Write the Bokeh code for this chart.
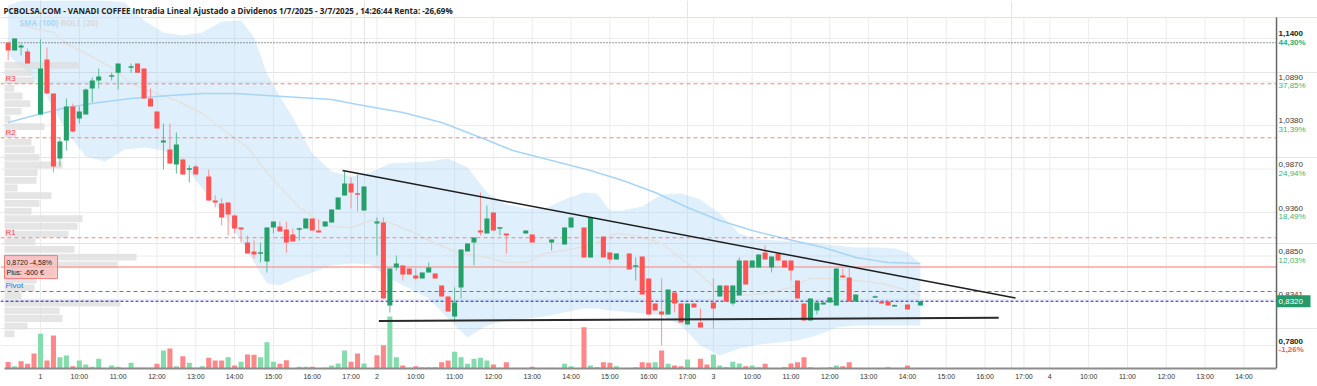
from bokeh.plotting import figure
from bokeh.models import Range1d, FixedTicker, LinearAxis
from bokeh.core.properties import value
from bokeh.embed import file_html
from bokeh.resources import INLINE

TITLE = ("PCBOLSA.COM - VANADI COFFEE Intradia Lineal Ajustado a Dividenos "
         "1/7/2025 - 3/7/2025 , 14:26:44 Renta: -26,69%")

# ---------------- candles (10 min) ----------------
candle_time = [
    "1 08:10", "1 08:20", "1 08:30", "1 08:40", "1 09:00", "1 09:10", "1 09:20", "1 09:30", "1 09:40", "1 09:50",
    "1 10:00", "1 10:10", "1 10:20", "1 10:30", "1 10:50", "1 11:00", "1 11:20", "1 11:30", "1 11:40", "1 11:50",
    "1 12:00", "1 12:10", "1 12:20", "1 12:30", "1 12:40", "1 12:50", "1 13:00", "1 13:20", "1 13:30", "1 13:40",
    "1 13:50", "1 14:00", "1 14:10", "1 14:20", "1 14:30", "1 14:40", "1 14:50", "1 15:00", "1 15:10", "1 15:20",
    "1 15:30", "1 15:40", "1 15:50", "1 16:00", "1 16:10", "1 16:20", "1 16:30", "1 16:40", "1 16:50", "1 17:00",
    "1 17:10", "1 17:20",
    "2 09:00", "2 09:10", "2 09:20", "2 09:30", "2 09:40", "2 09:50", "2 10:00", "2 10:10", "2 10:20", "2 10:30",
    "2 10:40", "2 10:50", "2 11:00", "2 11:10", "2 11:20", "2 11:30", "2 11:40", "2 11:50", "2 12:00", "2 12:10",
    "2 12:20", "2 12:50", "2 13:00", "2 13:30", "2 13:50", "2 14:00", "2 14:20", "2 14:30", "2 14:50", "2 15:00",
    "2 15:10", "2 15:30", "2 15:40", "2 15:50", "2 16:00", "2 16:10", "2 16:20", "2 16:30", "2 16:40", "2 16:50",
    "2 17:00", "2 17:10", "2 17:20",
    "3 09:00", "3 09:10", "3 09:20", "3 09:30", "3 09:40", "3 09:50", "3 10:00", "3 10:10", "3 10:20", "3 10:30",
    "3 10:40", "3 10:50", "3 11:00", "3 11:10", "3 11:20", "3 11:30", "3 11:40", "3 11:50", "3 12:00", "3 12:10",
    "3 12:20", "3 12:30", "3 12:40", "3 13:10", "3 13:20", "3 13:30", "3 13:40", "3 14:00", "3 14:20",
]
candle_open = [
    1.1350, 1.1259, 1.1294, 1.1248, 1.0509, 1.1154, 1.0755, 0.9993, 1.0204, 1.0603,
    1.0462, 1.0509, 1.0814, 1.0908, 1.0954, 1.0999, 1.1060, 1.1107, 1.1048, 1.0697,
    1.0544, 1.0180, 1.0099, 0.9923, 0.9981, 0.9863, 0.9899, 0.9782, 0.9501, 0.9466,
    0.9477, 0.9325, 0.9184, 0.9008, 0.8903, 0.8880, 0.8786, 0.9184, 0.9196, 0.9161,
    0.9102, 0.9160, 0.9173, 0.9290, 0.9149, 0.9196, 0.9243, 0.9395, 0.9559, 0.9700,
    0.9583, 0.9384,
    0.9231, 0.9243, 0.8270, 0.8715, 0.8739, 0.8704, 0.8622, 0.8587, 0.8657, 0.8645,
    0.8504, 0.8375, 0.8141, 0.8481, 0.8903, 0.9008, 0.9149, 0.9114, 0.9360, 0.9173,
    0.9114, 0.9114, 0.9102, 0.9008, 0.8985, 0.9184, 0.9184, 0.8833, 0.9079, 0.8891,
    0.8809, 0.8879, 0.8727, 0.8844, 0.8587, 0.8293, 0.8200, 0.8164, 0.8422, 0.8293,
    0.8047, 0.8293, 0.8071,
    0.8305, 0.8375, 0.8504, 0.8293, 0.8387, 0.8797, 0.8715, 0.8715, 0.8891, 0.8715,
    0.8879, 0.8797, 0.8797, 0.8563, 0.8293, 0.8094, 0.8211, 0.8282, 0.8305, 0.8270,
    0.8622, 0.8598, 0.8317, 0.8364, 0.8317, 0.8317, 0.8264, 0.8282, 0.8270,
]
candle_high = [
    1.1365, 1.1400, 1.1341, 1.1283, 1.1390, 1.1294, 1.0755, 1.0239, 1.0697, 1.0638,
    1.0603, 1.0814, 1.0943, 1.1048, 1.0999, 1.1107, 1.1107, 1.1107, 1.1048, 1.0814,
    1.0544, 1.0403, 1.0403, 1.0298, 0.9993, 0.9911, 0.9923, 0.9864, 0.9559, 0.9524,
    0.9477, 0.9337, 0.9184, 0.9091, 0.9032, 0.9008, 0.9184, 0.9255, 0.9255, 0.9255,
    0.9173, 0.9184, 0.9290, 0.9290, 0.9278, 0.9255, 0.9395, 0.9536, 0.9841, 0.9770,
    0.9806, 0.9665,
    0.9301, 0.9301, 0.8704, 0.8856, 0.8739, 0.8704, 0.8704, 0.8657, 0.8774, 0.8645,
    0.8504, 0.8375, 0.8481, 0.8926, 0.8997, 0.9067, 0.9595, 0.9442, 0.9360, 0.9190,
    0.9114, 0.9149, 0.9102, 0.9043, 0.9184, 0.9301, 0.9184, 0.9301, 0.9079, 0.8891,
    0.8879, 0.8879, 0.8833, 0.8844, 0.8587, 0.8293, 0.8587, 0.8457, 0.8422, 0.8293,
    0.8293, 0.8293, 0.8235,
    0.8587, 0.8504, 0.8504, 0.8504, 0.8833, 0.8797, 0.8797, 0.8868, 0.8973, 0.8844,
    0.8879, 0.8797, 0.8797, 0.8563, 0.8293, 0.8352, 0.8305, 0.8305, 0.8364, 0.8704,
    0.8704, 0.8704, 0.8399, 0.8387, 0.8317, 0.8317, 0.8282, 0.8282, 0.8320,
]
candle_low = [
    1.1142, 1.1259, 1.1201, 1.1107, 1.0509, 1.0755, 0.9829, 0.9899, 1.0087, 1.0298,
    1.0403, 1.0509, 1.0650, 1.0814, 1.0908, 1.0802, 1.0999, 1.0999, 1.0697, 1.0603,
    1.0345, 0.9864, 0.9935, 0.9817, 0.9806, 0.9712, 0.9806, 0.9501, 0.9419, 0.9208,
    0.9091, 0.9114, 0.9008, 0.8879, 0.8821, 0.8774, 0.8657, 0.9114, 0.9137, 0.8891,
    0.9020, 0.9032, 0.9173, 0.9149, 0.9126, 0.9196, 0.9243, 0.9395, 0.9559, 0.9407,
    0.9372, 0.9384,
    0.8856, 0.8352, 0.8188, 0.8680, 0.8563, 0.8633, 0.8563, 0.8587, 0.8657, 0.8587,
    0.8375, 0.8200, 0.8082, 0.8352, 0.8903, 0.8739, 0.9091, 0.9114, 0.9149, 0.9091,
    0.8879, 0.9114, 0.9008, 0.8915, 0.8985, 0.9184, 0.8833, 0.8833, 0.8833, 0.8762,
    0.8809, 0.8692, 0.8563, 0.8399, 0.8164, 0.8211, 0.7800, 0.8164, 0.8188, 0.8071,
    0.8047, 0.8246, 0.8012,
    0.8000, 0.8375, 0.8317, 0.8270, 0.8387, 0.8516, 0.8715, 0.8715, 0.8809, 0.8657,
    0.8797, 0.8715, 0.8563, 0.8352, 0.8094, 0.8094, 0.8164, 0.8282, 0.8305, 0.8270,
    0.8598, 0.8317, 0.8317, 0.8364, 0.8293, 0.8270, 0.8258, 0.8223, 0.8270,
]
candle_close = [
    1.1259, 1.1400, 1.1318, 1.1107, 1.1048, 1.0755, 0.9899, 1.0192, 1.0603, 1.0310,
    1.0544, 1.0802, 1.0908, 1.0954, 1.0966, 1.1107, 1.1072, 1.0999, 1.0697, 1.0603,
    1.0345, 1.0204, 0.9935, 1.0157, 0.9806, 0.9876, 0.9806, 0.9501, 0.9477, 0.9301,
    0.9337, 0.9173, 0.9161, 0.8879, 0.8868, 0.8891, 0.9184, 0.9255, 0.9137, 0.9008,
    0.9020, 0.9172, 0.9290, 0.9149, 0.9126, 0.9255, 0.9395, 0.9536, 0.9700, 0.9595,
    0.9571, 0.9665,
    0.9255, 0.8352, 0.8704, 0.8762, 0.8633, 0.8633, 0.8587, 0.8657, 0.8715, 0.8587,
    0.8375, 0.8200, 0.8305, 0.8926, 0.8997, 0.9067, 0.9126, 0.9290, 0.9149, 0.9184,
    0.9091, 0.9149, 0.9008, 0.9043, 0.9184, 0.9301, 0.8833, 0.9301, 0.8833, 0.8809,
    0.8879, 0.8692, 0.8739, 0.8399, 0.8164, 0.8211, 0.8164, 0.8457, 0.8293, 0.8071,
    0.8293, 0.8246, 0.8012,
    0.8235, 0.8504, 0.8317, 0.8504, 0.8797, 0.8516, 0.8797, 0.8868, 0.8809, 0.8844,
    0.8797, 0.8715, 0.8680, 0.8352, 0.8094, 0.8352, 0.8305, 0.8305, 0.8364, 0.8704,
    0.8598, 0.8317, 0.8399, 0.8375, 0.8293, 0.8270, 0.8270, 0.8223, 0.8320,
]

# ---------------- volume (shares) ----------------
vol_time = [
    "1 08:10", "1 08:20", "1 08:30", "1 08:40", "1 08:50", "1 09:00", "1 09:10", "1 09:20", "1 09:30", "1 09:40",
    "1 09:50", "1 10:00", "1 10:10", "1 10:20", "1 10:30", "1 10:50", "1 11:00", "1 11:20", "1 11:30", "1 11:40",
    "1 11:50", "1 12:00", "1 12:10", "1 12:20", "1 12:30", "1 12:40", "1 12:50", "1 13:00", "1 13:10", "1 13:20",
    "1 13:30", "1 13:40", "1 13:50", "1 14:00", "1 14:10", "1 14:20", "1 14:30", "1 14:40", "1 14:50", "1 15:00",
    "1 15:10", "1 15:20", "1 15:40", "1 15:50", "1 16:00", "1 16:20", "1 16:30", "1 16:40", "1 16:50", "1 17:00",
    "1 17:10", "1 17:20",
    "2 09:00", "2 09:10", "2 09:20", "2 09:30", "2 09:40", "2 09:50", "2 10:00", "2 10:10", "2 10:20", "2 10:30",
    "2 10:40", "2 10:50", "2 11:00", "2 11:10", "2 11:20", "2 11:30", "2 11:40", "2 11:50", "2 12:00", "2 12:10",
    "2 12:20", "2 13:00", "2 13:30", "2 13:50", "2 14:00", "2 14:20", "2 14:30", "2 14:40", "2 14:50", "2 15:00",
    "2 15:10", "2 15:40", "2 15:50", "2 16:00", "2 16:10", "2 16:20", "2 16:30", "2 16:40", "2 16:50", "2 17:00",
    "2 17:20", "2 17:30",
    "3 09:00", "3 09:10", "3 09:20", "3 09:30", "3 09:40", "3 09:50", "3 10:00", "3 10:10", "3 10:20", "3 10:50",
    "3 11:00", "3 11:10", "3 11:20", "3 11:30", "3 11:50", "3 12:00", "3 12:10", "3 12:20", "3 12:30", "3 13:30",
    "3 14:00",
]
vol_shares = [
    13200, 4600, 14600, 9400, 30000, 69400, 16000, 66000, 22600, 26000,
    4600, 16000, 8000, 3400, 19400, 6000, 3400, 11400, 1400, 1400,
    1400, 9400, 36000, 40000, 4600, 24600, 11400, 1400, 4600, 21400,
    16000, 16000, 22600, 6000, 13400, 28000, 27400, 22600, 52600, 13400,
    9400, 16600, 3400, 3400, 3400, 1400, 6000, 10000, 36000, 13400,
    30000, 10000,
    26600, 46600, 104000, 22600, 6000, 1400, 4600, 2600, 2600, 2600,
    12600, 16000, 33400, 22600, 9400, 19400, 21400, 16000, 8000, 1400,
    12600, 3400, 1400, 9400, 4600, 82600, 6000, 2600, 12600, 11400,
    4600, 2600, 12600, 11400, 12600, 36000, 9400, 6000, 4600, 18000,
    19400, 8000,
    28000, 6000, 2600, 13400, 10000, 4600, 6000, 2600, 9400, 2600,
    10000, 12600, 22600, 2600, 1400, 2600, 6000, 4600, 12600, 2600,
    6000,
]
vol_up = [
    0, 1, 0, 0, 0, 1, 0, 0, 1, 1,
    0, 1, 1, 1, 1, 1, 1, 1, 0, 0,
    0, 0, 1, 0, 1, 0, 1, 1, 1, 0,
    0, 0, 1, 0, 1, 0, 0, 1, 1, 1,
    0, 0, 1, 1, 0, 1, 1, 1, 1, 0,
    0, 1,
    0, 0, 1, 1, 0, 1, 0, 1, 1, 0,
    0, 0, 1, 1, 1, 1, 1, 1, 0, 1,
    0, 0, 1, 1, 1, 0, 1, 0, 0, 0,
    1, 1, 0, 0, 1, 0, 1, 0, 0, 1,
    0, 0,
    1, 1, 0, 1, 1, 0, 1, 1, 0, 0,
    0, 0, 0, 1, 0, 1, 1, 0, 0, 0,
    0,
]

# ---------------- indicators ----------------
sma_time = ["1 08:10", "1 08:50", "1 09:40", "1 10:30", "1 11:20", "1 12:20", "1 13:10", "1 14:00", "1 14:50",
            "1 16:30", "1 17:10", "2 09:40", "2 10:40", "2 11:40", "2 12:30", "2 13:30", "2 14:30", "2 15:20",
            "2 16:10", "2 17:00", "3 09:10", "3 10:00", "3 10:50", "3 11:50", "3 12:40", "3 13:30", "3 14:20"]
sma_value = [1.0415, 1.0497, 1.0591, 1.0650, 1.0697, 1.0732, 1.0755, 1.0755, 1.0732,
             1.0685, 1.0626, 1.0532, 1.0415, 1.0239, 1.0087, 0.9970, 0.9852, 0.9735,
             0.9595, 0.9419, 0.9266, 0.9149, 0.9055, 0.8950, 0.8833, 0.8774, 0.8762]

boll_mid_time = ["1 08:30", "1 09:20", "1 09:40", "1 10:10", "1 10:50", "1 11:20", "1 12:00", "1 12:30",
                 "1 13:10", "1 13:50", "1 14:20", "1 14:50", "1 15:20", "1 15:40", "1 16:10", "1 16:30",
                 "1 17:00", "1 17:30", "2 09:20", "2 10:00", "2 10:30", "2 11:10", "2 11:50", "2 12:20",
                 "2 12:50", "2 13:20", "2 13:50", "2 14:30", "2 15:10", "2 15:40", "2 16:20", "2 17:00",
                 "2 17:30", "3 09:10", "3 09:40", "3 10:20", "3 11:00", "3 11:30", "3 12:00", "3 12:40",
                 "3 13:20", "3 13:50", "3 14:20"]
boll_mid_value = [1.1552, 1.1470, 1.1341, 1.1224, 1.1060, 1.0872, 1.0755, 1.0673,
                  1.0521, 1.0286, 1.0122, 0.9829, 0.9583, 0.9419, 0.9266, 0.9196,
                  0.9184, 0.9266, 0.9243, 0.9114, 0.8997, 0.8879, 0.8833, 0.8774,
                  0.8774, 0.8879, 0.8915, 0.8973, 0.9114, 0.9090, 0.8997, 0.8762,
                  0.8563, 0.8410, 0.8387, 0.8410, 0.8481, 0.8587, 0.8587, 0.8563,
                  0.8528, 0.8469, 0.8387]

boll_time = ["1 08:10", "1 08:30", "1 09:00", "1 09:20", "1 09:40", "1 10:10", "1 10:40", "1 11:10", "1 11:40",
             "1 12:10", "1 12:40", "1 13:10", "1 13:40", "1 14:10", "1 14:30", "1 14:50", "1 15:10", "1 15:30",
             "1 16:00", "1 16:30", "1 17:00", "1 17:30",
             "2 09:20", "2 09:50", "2 10:20", "2 10:50", "2 11:20", "2 11:50", "2 12:20", "2 12:50", "2 13:20",
             "2 13:50", "2 14:20", "2 14:40", "2 15:00", "2 15:20", "2 15:50", "2 16:20", "2 16:50", "2 17:20",
             "3 09:10", "3 09:40", "3 10:10", "3 10:40", "3 11:10", "3 11:40", "3 12:10", "3 12:40", "3 13:10",
             "3 13:40", "3 14:00", "3 14:20"]
boll_upper = [1.1787, 1.1845, 1.1845, 1.1845, 1.1845, 1.1845, 1.1845, 1.1822, 1.1611,
              1.1470, 1.1435, 1.1470, 1.1599, 1.1611, 1.1412, 1.0990, 1.0720, 1.0474,
              1.0052, 0.9841, 0.9782, 0.9829,
              0.9935, 0.9946, 0.9958, 0.9993, 0.9888, 0.9595, 0.9454, 0.9407, 0.9407,
              0.9513, 0.9595, 0.9583, 0.9384, 0.9384, 0.9430, 0.9571, 0.9583, 0.9513,
              0.9348, 0.9114, 0.9044, 0.9032, 0.9020, 0.8997, 0.8973, 0.8950, 0.8950,
              0.8938, 0.8891, 0.8762]
boll_lower = [1.1201, 1.1083, 1.0849, 1.0579, 1.0310, 1.0017, 0.9958, 1.0099, 1.0122,
              1.0087, 0.9935, 0.9642, 0.9360, 0.9032, 0.8774, 0.8528, 0.8504, 0.8575,
              0.8657, 0.8739, 0.8762, 0.8750,
              0.8586, 0.8469, 0.8352, 0.8118, 0.7895, 0.8036, 0.8094, 0.8118, 0.8141,
              0.8188, 0.8235, 0.8235, 0.8211, 0.8200, 0.8176, 0.8153, 0.8036, 0.7801,
              0.7684, 0.7766, 0.7813, 0.7836, 0.7860, 0.7918, 0.8012, 0.8036, 0.8036,
              0.8036, 0.8036, 0.8036]

# trend lines drawn on the chart
resist_time = ["1 16:47", "3 16:47"]
resist_price = [0.9853, 0.8358]
support_time = ["2 09:03", "3 16:21"]
support_price = [0.8088, 0.8126]

# horizontal levels
level_names = ["R3", "R2", "R1", "Pivot"]
level_values = [1.0869, 1.0236, 0.9064, 0.8434]
start_price = 1.1350          # price at start of period (dotted line)
position_price = 0.8720       # purchase level
position_text = ["0,8720  -4,58%", "Plus: -600 \u20ac"]
last_price_text = "0,8320"

# volume at price profile (left)
profile_price = [1.1086, 1.0996, 1.0906, 1.0816, 1.0726, 1.0636, 1.0546, 1.0456, 1.0366, 1.0276,
                 1.0186, 1.0096, 1.0006, 0.9917, 0.9827, 0.9737, 0.9647, 0.9557, 0.9467, 0.9377,
                 0.9287, 0.9197, 0.9107, 0.9017, 0.8927, 0.8837, 0.8747, 0.8657, 0.8567, 0.8477,
                 0.8387, 0.8297, 0.8207, 0.8117, 0.8027, 0.7937]
profile_volume = [75000, 27000, 30000, 10000, 18000, 26000, 17000, 6000, 40000, 12000,
                  27000, 30000, 35000, 58000, 33000, 32000, 13000, 47000, 35000, 27000,
                  78000, 73000, 64000, 31000, 70000, 132000, 113000, 50000, 32000, 30000,
                  17000, 116000, 55000, 58000, 23000, 10000]

# price axis ticks (right)
tick_price = [1.1400, 1.0890, 1.0380, 0.9870, 0.9360, 0.8850, 0.8341, 0.7800]
tick_price_label = ["1,1400", "1,0890", "1,0380", "0,9870", "0,9360", "0,8850", "0,8341", "0,7800"]
tick_pct_label = ["44,30%", "37,85%", "31,39%", "24,94%", "18,49%", "12,03%", "5,58%", "-1,26%"]

# time axis
day_labels = ["1", "2", "3", "4"]
day_hours = [["10:00", "11:00", "12:00", "13:00", "14:00", "15:00", "16:00", "17:00"],
             ["10:00", "11:00", "12:00", "13:00", "14:00", "15:00", "16:00", "17:00"],
             ["10:00", "11:00", "12:00", "13:00", "14:00", "15:00", "16:00", "17:00"],
             ["10:00", "11:00", "12:00", "13:00", "14:00"]]

assert len(candle_time) == len(candle_open) == len(candle_high) == len(candle_low) == len(candle_close)
assert len(vol_time) == len(vol_shares) == len(vol_up)
assert len(boll_time) == len(boll_upper) == len(boll_lower)
assert len(boll_mid_time) == len(boll_mid_value)
assert len(sma_time) == len(sma_value)
assert len(profile_price) == len(profile_volume)

# ---------------- layout constants ----------------
SLOTS_PER_DAY = 52           # 10-minute slots per session


def to_slot(t):
    d, hm = t.split()
    h, m = hm.split(":")
    return (int(d) - 1) * SLOTS_PER_DAY + (int(h) - 9) * 6 + int(m) / 10.0


W, H = 1317, 386
AXIS_H = 18
FRAME_H = H - AXIS_H
PX_X = 6.47                   # px per slot
X0 = -40 / PX_X
X1 = X0 + W / PX_X
PX_Y = 853.0                  # px per price unit
Y_BOT = 0.75312
Y_TOP = Y_BOT + FRAME_H / PX_Y
TOPBAR = Y_TOP - 17 / PX_Y
AXIS_X = 191.04
VOL_PER_PX = 2000.0
PROF_PER_PX = 1000.0
PROF_LEFT_PX = 4


def dx(px):
    return px / PX_X


def dy(px):
    return px / PX_Y


GREEN = "#25a06b"
RED = "#ff5454"
GREEN_WICK = "#5cbf95"
RED_WICK = "#ff9090"

p = figure(width=W, height=H, x_range=Range1d(X0, X1), y_range=Range1d(Y_BOT, Y_TOP),
           output_backend="svg", toolbar_location=None, min_border=0,
           min_border_bottom=AXIS_H, min_border_left=0, min_border_right=0, min_border_top=0,
           x_axis_location=None, y_axis_location=None)
p.outline_line_color = None
p.background_fill_color = "white"
p.border_fill_color = "white"
p.extra_y_ranges = {"vol": Range1d(0, FRAME_H * VOL_PER_PX)}
p.extra_x_ranges = {"prof": Range1d(-PROF_LEFT_PX * PROF_PER_PX, (W - PROF_LEFT_PX) * PROF_PER_PX)}

# ---- ticks ----
x_ticks = []
x_over = {}
for d, hours in enumerate(day_hours, start=1):
    s = int(round(to_slot(f"{d} 09:00")))
    x_ticks.append(s)
    x_over[s] = day_labels[d - 1]
    for hh in hours:
        s = int(round(to_slot(f"{d} {hh}")))
        x_ticks.append(s)
        x_over[s] = hh

# grid
p.segment(x0=x_ticks, x1=x_ticks, y0=[Y_BOT] * len(x_ticks), y1=[TOPBAR] * len(x_ticks),
          line_color="#ececec", line_width=1)
p.segment(x0=[X0] * len(tick_price), x1=[AXIS_X] * len(tick_price), y0=tick_price, y1=tick_price,
          line_color="#ececec", line_width=1)

# Bollinger band
bx = [to_slot(t) for t in boll_time]
p.varea(x=bx, y1=boll_lower, y2=boll_upper, fill_color="#8ccaf3", fill_alpha=0.28)

# title bar separator
p.segment(x0=[X0], x1=[X1], y0=[TOPBAR], y1=[TOPBAR], line_color="#f1dada", line_width=1)

# volume profile
p.hbar(y=profile_price, left=0, right=profile_volume, height=0.0080, x_range_name="prof",
       fill_color="#dedede", fill_alpha=0.8, line_color=None)

# SMA / middle band
p.line([to_slot(t) for t in boll_mid_time], boll_mid_value, line_color="#e2e2e2", line_width=1.5)
p.line([to_slot(t) for t in sma_time], sma_value, line_color="#a7d5f7", line_width=1.5)

# volume bars
vx = [to_slot(t) for t in vol_time]
vcol = ["#84dcac" if u else "#ff8787" for u in vol_up]
p.vbar(x=vx, top=vol_shares, bottom=0, width=0.78, y_range_name="vol",
       fill_color=vcol, line_color=None)

# horizontal levels
nl = len(level_values)
lvl_line_col = ["#f38484", "#f38484", "#f38484", "#3b82e6"]
lvl_text_col = ["#f04a4a", "#f04a4a", "#f04a4a", "#2f78df"]
p.segment(x0=[X0] * nl, x1=[AXIS_X] * nl, y0=level_values, y1=level_values,
          line_color=lvl_line_col, line_width=1, line_dash="4 3")
p.segment(x0=[X0], x1=[AXIS_X], y0=[start_price], y1=[start_price],
          line_color="#333333", line_width=1, line_dash="1 2")
p.segment(x0=[X0], x1=[AXIS_X], y0=[position_price], y1=[position_price],
          line_color="#f7a3a3", line_width=1.5)
last_price = candle_close[-1]
p.segment(x0=[X0], x1=[AXIS_X], y0=[last_price], y1=[last_price],
          line_color="#1818c8", line_width=1, line_dash="3 2")

# candles
cx = [to_slot(t) for t in candle_time]
up = [c >= o for o, c in zip(candle_open, candle_close)]
btop, bbot = [], []
MINB = dy(1.6)
for o, c in zip(candle_open, candle_close):
    t_, b_ = max(o, c), min(o, c)
    if t_ - b_ < MINB:
        m_ = (t_ + b_) / 2
        t_, b_ = m_ + MINB / 2, m_ - MINB / 2
    btop.append(t_)
    bbot.append(b_)
p.segment(x0=cx, x1=cx, y0=candle_low, y1=candle_high,
          line_color=[GREEN_WICK if u else RED_WICK for u in up], line_width=1)
p.vbar(x=cx, top=btop, bottom=bbot, width=0.78,
       fill_color=[GREEN if u else RED for u in up], line_color=None)

# trend lines
p.line([to_slot(t) for t in resist_time], resist_price, line_color="#1e1e1e", line_width=1.5)
p.line([to_slot(t) for t in support_time], support_price, line_color="#2a2a2a", line_width=2)

# right price axis line
p.segment(x0=[AXIS_X], x1=[AXIS_X], y0=[Y_BOT], y1=[TOPBAR], line_color="#666666", line_width=1.5)

FONT = value("Liberation Sans")
# right labels
n = len(tick_price)
bold_idx = [0, n - 1]
reg_idx = list(range(1, n - 1))
lx = AXIS_X + dx(2)
p.text(x=[lx] * len(reg_idx), y=[tick_price[i] + dy(4.5) for i in reg_idx],
       text=[tick_price_label[i] for i in reg_idx], text_font=FONT, text_font_size="8px",
       text_color="#3a3a3a", text_baseline="middle", text_align="left")
p.text(x=[lx] * len(reg_idx), y=[tick_price[i] - dy(4) for i in reg_idx],
       text=[tick_pct_label[i] for i in reg_idx], text_font=FONT, text_font_size="8px",
       text_color="#37b673", text_baseline="middle", text_align="left")
p.text(x=[lx] * 2, y=[tick_price[i] + dy(4.5) for i in bold_idx],
       text=[tick_price_label[i] for i in bold_idx], text_font=FONT, text_font_size="8px",
       text_font_style="bold", text_color="#222222", text_baseline="middle", text_align="left")
p.text(x=[lx] * 2, y=[tick_price[i] - dy(4) for i in bold_idx],
       text=[tick_pct_label[i] for i in bold_idx], text_font=FONT, text_font_size="8px",
       text_font_style="bold", text_color=["#2fae6b", "#ff5454"], text_baseline="middle",
       text_align="left")

# last price box
p.quad(left=[AXIS_X], right=[AXIS_X + dx(34)], bottom=[last_price - dy(6)], top=[last_price + dy(6)],
       fill_color="#26996a", line_color=None)
p.text(x=[lx], y=[last_price], text=[last_price_text], text_font=FONT, text_font_size="8px",
       text_color="white", text_baseline="middle", text_align="left")

# level names (left)
p.text(x=[X0 + dx(5)] * nl, y=[v + dy(1) for v in level_values], text=level_names,
       text_font=FONT, text_font_size="8px", text_color=lvl_text_col,
       text_baseline="bottom", text_align="left")

# position box
p.quad(left=[X0 + dx(4)], right=[X0 + dx(57)], bottom=[position_price - dy(11.5)],
       top=[position_price + dy(11.5)], fill_color="#fbb9b9", fill_alpha=0.75,
       line_color="#f07c7c", line_width=1)
p.text(x=[X0 + dx(6)] * 2, y=[position_price + dy(5), position_price - dy(5)], text=position_text,
       text_font=FONT, text_font_size="7px", text_color="#222222",
       text_baseline="middle", text_align="left")

# title and legend
p.text(x=[X0 + dx(3)], y=[Y_TOP - dy(4)], text=[TITLE], text_font=value("Open Sans"),
       text_font_size="8px", text_font_style="bold", text_color="#222222",
       text_baseline="top", text_align="left")
p.text(x=[X0 + dx(19), X0 + dx(60)], y=[Y_TOP - dy(22)] * 2, text=["SMA (100)", "BOLL (20)"],
       text_font=value("Open Sans"), text_font_size="8px", text_font_style="bold",
       text_color=["#a9d6f7", "#dadada"], text_baseline="middle", text_align="left")

# time axis
xaxis = LinearAxis(ticker=FixedTicker(ticks=x_ticks), major_label_overrides=x_over,
                   bounds=(X0 + dx(4), AXIS_X))
xaxis.major_tick_line_color = None
xaxis.minor_tick_line_color = None
xaxis.major_tick_out = 0
xaxis.major_tick_in = 0
xaxis.minor_tick_out = 0
xaxis.minor_tick_in = 0
xaxis.axis_line_color = "#8c8c8c"
xaxis.axis_line_width = 2
xaxis.major_label_text_font = "Liberation Sans"
xaxis.major_label_text_font_size = "7px"
xaxis.major_label_text_color = "#333333"
xaxis.major_label_standoff = 4
p.add_layout(xaxis, "below")

open("out.html", "w").write(file_html(p, INLINE))
